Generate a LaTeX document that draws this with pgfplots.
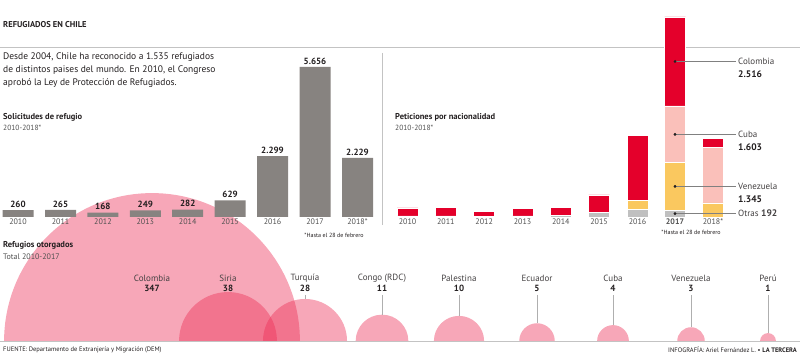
\documentclass[border=0pt]{standalone}
\usepackage{pgfplots}
\pgfplotsset{compat=1.18}
\usepackage{fontspec}
\setmainfont{PT Sans}
\definecolor{txt}{RGB}{35,31,32}
\definecolor{subt}{RGB}{80,80,80}
\definecolor{barg}{RGB}{135,131,128}
\definecolor{colr}{RGB}{228,0,43}
\definecolor{cubap}{RGB}{250,192,186}
\definecolor{venz}{RGB}{250,200,95}
\definecolor{otr}{RGB}{192,192,192}
\definecolor{bub}{RGB}{236,45,85}
\definecolor{rulec}{RGB}{195,195,195}
\newcommand\fs[1]{\fontsize{#1}{#1}\selectfont}
\begin{document}
\begin{tikzpicture}
\path[use as bounding box] (0pt,0pt) rectangle (800pt,355pt);

% ---------------- bubbles: Refugios otorgados ----------------
\begin{axis}[at={(0pt,14pt)}, anchor=south west, scale only axis,
  width=800pt, height=170pt, xmin=0, xmax=800, ymin=0, ymax=170,
  hide axis, clip marker paths=true]
\addplot[scatter, only marks, mark=*,
  scatter/use mapped color={draw=none, fill=bub},
  mark options={fill opacity=0.42, draw opacity=0},
  visualization depends on={7.94*sqrt(\thisrow{v}) \as \rad},
  scatter/@pre marker code/.append style={/tikz/mark size=\rad}]
  table {
  x   y v
  152 0 347
  228 0 38
  305 0 28
  382 0 11
  459 0 10
  537 0 5
  613 0 4
  691 0 3
  768 0 1
  };
\draw[rulec!90!black, line width=0.5pt] (axis cs:305,46) -- (axis cs:305,42);
\draw[rulec!90!black, line width=0.5pt] (axis cs:382,46) -- (axis cs:382,26.3);
\draw[rulec!90!black, line width=0.5pt] (axis cs:459,46) -- (axis cs:459,25.1);
\draw[rulec!90!black, line width=0.5pt] (axis cs:537,46) -- (axis cs:537,17.8);
\draw[rulec!90!black, line width=0.5pt] (axis cs:613,46) -- (axis cs:613,15.9);
\draw[rulec!90!black, line width=0.5pt] (axis cs:691,46) -- (axis cs:691,13.8);
\draw[rulec!90!black, line width=0.5pt] (axis cs:768,46) -- (axis cs:768,7.9);
\addplot[draw=none, mark=none, nodes near coords, point meta=explicit symbolic,
  nodes near coords style={anchor=center, font=\fs{9}, text=txt!85}]
  table[meta=n, col sep=comma] {
  x,y,n
  152,63,Colombia
  228,63,Siria
  305,63,Turquía
  382,63,Congo (RDC)
  459,63,Palestina
  537,63,Ecuador
  613,63,Cuba
  691,63,Venezuela
  768,63,Perú
  };
\addplot[draw=none, mark=none, nodes near coords, point meta=explicit symbolic,
  nodes near coords style={anchor=center, font=\fs{9}\bfseries, text=txt}]
  table[meta=n] {
  x   y  n
  152 53 347
  228 53 38
  305 53 28
  382 53 11
  459 53 10
  537 53 5
  613 53 4
  691 53 3
  768 53 1
  };
\end{axis}
\draw[rulec, line width=0.8pt] (0pt,14pt) -- (800pt,14pt);

% ---------------- header ----------------
\node[anchor=west, font=\fs{8.5}\bfseries, text=txt, inner sep=0pt] at (3pt,330pt) {REFUGIADOS EN CHILE};
\draw[rulec, line width=0.8pt] (0pt,308pt) -- (800pt,308pt);
\node[anchor=west, font=\fs{9.5}, text=txt, inner sep=0pt] at (3pt,298pt) {Desde 2004, Chile ha reconocido a 1.535 refugiados};
\node[anchor=west, font=\fs{9.5}, text=txt, inner sep=0pt] at (3pt,285pt) {de distintos paises del mundo. En 2010, el Congreso};
\node[anchor=west, font=\fs{9.5}, text=txt, inner sep=0pt] at (3pt,272pt) {aprobó la Ley de Protección de Refugiados.};
\draw[rulec, line width=0.6pt] (382pt,302pt) -- (382pt,130pt);

\node[anchor=west, font=\fs{8.5}\bfseries, text=txt, inner sep=0pt] at (3pt,238pt) {Solicitudes de refugio};
\node[anchor=west, font=\fs{7.5}, text=subt, inner sep=0pt] at (3pt,227pt) {2010-2018*};
\node[anchor=west, font=\fs{8.5}\bfseries, text=txt, inner sep=0pt] at (395pt,238pt) {Peticiones por nacionalidad};
\node[anchor=west, font=\fs{7.5}, text=subt, inner sep=0pt] at (395pt,227pt) {2010-2018*};
\node[anchor=west, font=\fs{8.5}\bfseries, text=txt, inner sep=0pt] at (3pt,110pt) {Refugios otorgados};
\node[anchor=west, font=\fs{8}, text=subt, inner sep=0pt] at (3pt,98pt) {Total 2010-2017};

% ---------------- left: Solicitudes de refugio ----------------
\begin{axis}[at={(0pt,138pt)}, anchor=south west, scale only axis,
  width=380pt, height=150pt, xmin=0, xmax=380, ymin=0, ymax=5656, clip=false,
  axis line style={draw=none}, ytick=\empty, major tick length=0pt,
  xtick={18,60.5,102.9,145.3,187.7,230.1,272.5,315,357.5},
  xticklabels={2010,2011,2012,2013,2014,2015,2016,2017,2018*},
  xticklabel style={font=\fs{8}, text=subt, inner sep=1.8pt},
  /pgf/number format/assume math mode=true]
\addplot[ybar, bar width=31pt, fill=barg, draw=none,
  nodes near coords, point meta=explicit symbolic,
  nodes near coords style={font=\fs{9}\bfseries, text=txt, inner sep=2.5pt}]
  table[meta=l] {
  x     y    l
  18    260  260
  60.5  265  265
  102.9 168  168
  145.3 249  249
  187.7 282  282
  230.1 629  629
  272.5 2299 2.299
  315   5656 5.656
  357.5 2229 2.229
  };
\end{axis}
\node[font=\fs{6}, text=txt, inner sep=0pt] at (334pt,120pt) {*Hasta el 28 de febrero};

% ---------------- right: Peticiones por nacionalidad ----------------
\begin{axis}[at={(380pt,138pt)}, anchor=south west, scale only axis,
  width=420pt, height=200pt, xmin=380, xmax=800, ymin=0, ymax=5656, clip=false,
  ybar stacked, bar width=21pt,
  axis line style={draw=none}, ytick=\empty, major tick length=0pt,
  xtick={407.5,445.8,484.2,522.5,560.8,599.1,637.5,675,713},
  xticklabels={2010,2011,2012,2013,2014,2015,2016,\textbf{2017},2018*},
  xticklabel style={font=\fs{8}, text=subt, inner sep=1.8pt},
  /pgf/number format/assume math mode=true]
\addplot[fill=otr, draw=white, line width=0.5pt] table {
  x y
  407.5 30
  445.8 30
  484.2 28
  522.5 34
  560.8 42
  599.1 129
  637.5 209
  675 192
  713 0
  };
\addplot[fill=venz, draw=white, line width=0.5pt] table {
  x y
  407.5 0
  445.8 0
  484.2 0
  522.5 0
  560.8 0
  599.1 0
  637.5 260
  675 1345
  713 399
  };
\addplot[fill=cubap, draw=white, line width=0.5pt] table {
  x y
  407.5 0
  445.8 0
  484.2 0
  522.5 0
  560.8 0
  599.1 0
  637.5 0
  675 1603
  713 1560
  };
\addplot[fill=colr, draw=white, line width=0.5pt] table {
  x y
  407.5 230
  445.8 235
  484.2 140
  522.5 215
  560.8 240
  599.1 500
  637.5 1830
  675 2516
  713 270
  };
\end{axis}
\begin{axis}[at={(380pt,138pt)}, anchor=south west, scale only axis,
  width=420pt, height=200pt, xmin=380, xmax=800, ymin=0, ymax=5656, clip=false,
  hide axis]
\addplot[gray, line width=0.5pt] coordinates {(675,4398) (736,4398)};
\addplot[gray, line width=0.5pt] coordinates {(675,2338) (736,2338)};
\addplot[gray, line width=0.5pt] coordinates {(675,864) (736,864)};
\addplot[gray, line width=0.5pt] coordinates {(675,96) (736,96)};
\addplot[only marks, mark=*, mark size=1.2pt, txt] coordinates {(675,4398) (675,2338) (675,864) (675,96)};
\node[anchor=west, font=\fs{9}, text=txt!85, inner sep=0pt] at (axis cs:738,4398) {Colombia};
\node[anchor=west, font=\fs{9.5}\bfseries, text=txt, inner sep=0pt] at (axis cs:738,4040) {2.516};
\node[anchor=west, font=\fs{9}, text=txt!85, inner sep=0pt] at (axis cs:738,2338) {Cuba};
\node[anchor=west, font=\fs{9.5}\bfseries, text=txt, inner sep=0pt] at (axis cs:738,1980) {1.603};
\node[anchor=west, font=\fs{9}, text=txt!85, inner sep=0pt] at (axis cs:738,864) {Venezuela};
\node[anchor=west, font=\fs{9.5}\bfseries, text=txt, inner sep=0pt] at (axis cs:738,506) {1.345};
\node[anchor=west, font=\fs{9}, text=txt!85, inner sep=0pt] at (axis cs:738,96) {Otras \textbf{\fs{9.5}192}};
\end{axis}
\node[font=\fs{6}, text=txt, inner sep=0pt] at (691pt,123pt) {*Hasta el 28 de febrero};

% ---------------- footer ----------------
\node[anchor=west, font=\fs{6.5}, text=txt, inner sep=0pt] at (3pt,5pt) {FUENTE: Departamento de Extranjería y Migración (DEM)};
\node[anchor=east, font=\fs{6.5}, text=txt, inner sep=0pt] at (797pt,5pt) {INFOGRAFÍA: Ariel Fernández L. • \textbf{LA TERCERA}};
\end{tikzpicture}
\end{document}
